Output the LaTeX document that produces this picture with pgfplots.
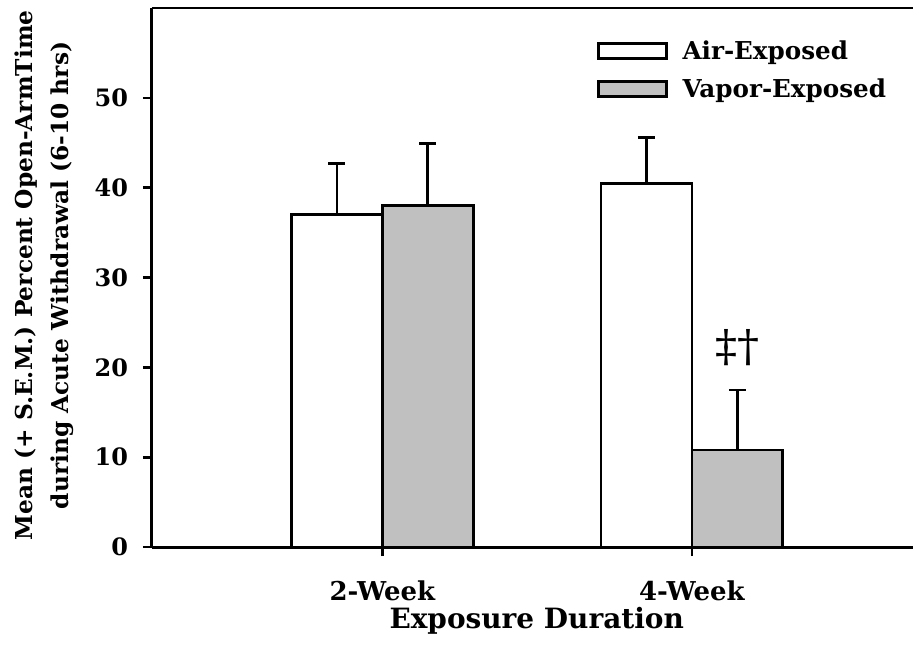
\documentclass[border=0pt]{standalone}
\usepackage{pgfplots}
\pgfplotsset{compat=1.18}
\usepackage{fontspec}
\setmainfont{DejaVu Serif}
\definecolor{barGray}{RGB}{192,192,192}
\begin{document}
\begin{tikzpicture}
\begin{axis}[
  scale only axis, width=571.5pt, height=405pt,
  xmin=-0.745, xmax=1.713, ymin=0, ymax=60,
  axis x line=box, axis y line=left,
  axis line style={line width=2.2pt, -},
  xtick pos=bottom, ytick pos=left,
  xtick={0,1}, xticklabels={2-Week,4-Week},
  ytick={0,10,20,30,40,50},
  tick align=outside, major tick length=6.75pt,
  tick style={line width=2pt, black},
  /pgf/number format/assume math mode=true,
  yticklabel style={font=\fontsize{18}{22}\selectfont\bfseries, xshift=-7.5pt},
  xticklabel style={font=\fontsize{19.5}{22}\selectfont\bfseries, yshift=-15pt},
  xlabel={Exposure Duration},
  xlabel style={font=\fontsize{21}{24}\selectfont\bfseries,
    at={(axis description cs:0.506,0)}, anchor=base, yshift=-61pt},
  ylabel={Mean (+ S.E.M.) Percent Open-ArmTime\\during Acute Withdrawal (6-10 hrs)},
  ylabel style={align=center, font=\fontsize{17.5}{27}\selectfont\bfseries,
    at={(axis description cs:0,0.504)}, anchor=center, yshift=80.5pt},
  legend style={draw=none, fill=none, at={(0.585,0.9475)}, anchor=north west,
    font=\fontsize{18.5}{22}\selectfont\bfseries, row sep=7pt, inner sep=0pt,
    nodes={inner sep=3pt}},
  legend cell align=left,
  clip=false,
]
\addlegendimage{legend image code/.code={\draw[line width=2pt, draw=black, fill=white] (0pt,-5.5pt) rectangle (51pt,5.5pt); \path (60pt,0pt);}}
\addlegendentry{Air-Exposed}
\addlegendimage{legend image code/.code={\draw[line width=2pt, draw=black, fill=barGray] (0pt,-5.5pt) rectangle (51pt,5.5pt); \path (60pt,0pt);}}
\addlegendentry{Vapor-Exposed}
\addplot[forget plot, ybar, bar width=0.2935, bar shift=0pt, draw=black, line width=2pt, fill=white]
  coordinates {(-0.1468,37.0) (0.8532,40.5)};
\addplot[forget plot, ybar, bar width=0.2935, bar shift=0pt, draw=black, line width=2pt, fill=barGray]
  coordinates {(0.1468,38.0) (1.1468,10.8)};
\addplot[forget plot, draw=none, mark=none,
  error bars/.cd, y dir=plus, y explicit,
  error bar style={draw=black, line width=2pt},
  error mark=-,
  error mark options={rotate=90, draw=black, line width=2pt, mark size=6.4pt}]
  coordinates {(-0.1468,37.0) +- (0,5.7) (0.8532,40.5) +- (0,5.1)
               (0.1468,38.0) +- (0,6.9) (1.1468,10.8) +- (0,6.7)};
\node[font=\fontsize{33}{33}\selectfont] at (axis cs:1.1468,22.2) {‡†};
\end{axis}
\path ([yshift=6pt]current axis.north) ([yshift=-82.5pt]current axis.south)
      ([xshift=-114pt]current axis.west);
\end{tikzpicture}
\end{document}
